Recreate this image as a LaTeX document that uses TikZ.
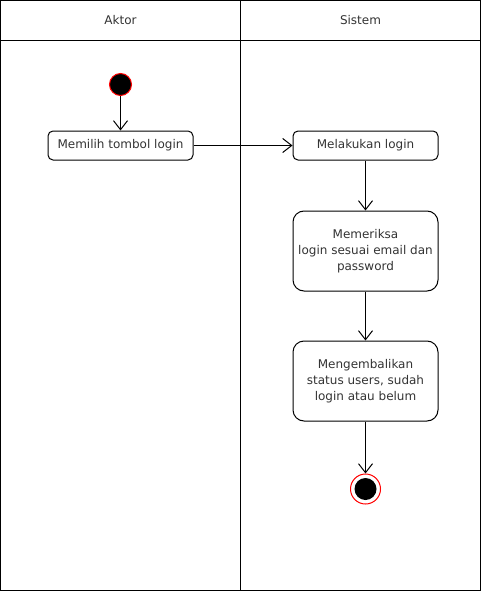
\documentclass[tikz,border=0pt]{standalone}
\usepackage{fontspec}
\setmainfont{DejaVu Sans}
\usetikzlibrary{arrows.meta,positioning}

\tikzstyle{lane} = [draw, line width=1pt]
\tikzstyle{lane-title} = [font=\fontsize{12}{14}\selectfont, text=black!80]
\tikzstyle{action} = [draw, rectangle, rounded corners=5pt, align=center, minimum width=145pt, minimum height=29pt, inner sep=2pt, font=\fontsize{12}{16}\selectfont, text=black!80]
\tikzstyle{big-action} = [action, rounded corners=11pt, minimum height=80pt]
\tikzstyle{start-node} = [circle, fill=black, draw=red, minimum size=22pt, inner sep=0pt]
\tikzstyle{end-node} = [circle, fill=white, draw=red, minimum size=30pt, inner sep=0pt]
\tikzstyle{flow} = [-{Straight Barb[length=9pt,width=14pt]}]

\begin{document}
\begin{tikzpicture}[x=1pt, y=-1pt, line width=1pt]

	\useasboundingbox (0,0) rectangle (482,599);

	% swimlanes
	\draw [lane] (0.5,0.5) rectangle (480.5,590.5);
	\draw [lane] (240.5,0.5) -- (240.5,590.5);
	\draw [lane] (0.5,40.5) -- (480.5,40.5);
	\node [lane-title] (aktor) at (120.5,20.5) {Aktor};
	\node [lane-title] (sistem) at (360.5,20.5) {Sistem};

	\node [start-node] (start) at (120.5,84.5) {};
	\node [action] (pilih) at (120.5,145.5) {Memilih tombol login};
	\node [action] (login) at (365.5,145.5) {Melakukan login};
	\node [big-action] (periksa) at (365.5,251) {Memeriksa\\login sesuai email dan\\password};
	\node [big-action] (kembali) at (365.5,381) {Mengembalikan\\status users, sudah\\login atau belum};
	\node [end-node] (end) at (365.5,489) {};
	\node [circle, fill=black, minimum size=22pt, inner sep=0pt] (end-dot) at (end) {};

	\draw [flow] (start) -- (pilih);
	\draw [flow] (pilih) -- (login);
	\draw [flow] (login) -- (periksa);
	\draw [flow] (periksa) -- (kembali);
	\draw [flow] (kembali) -- (end);

\end{tikzpicture}
\end{document}
